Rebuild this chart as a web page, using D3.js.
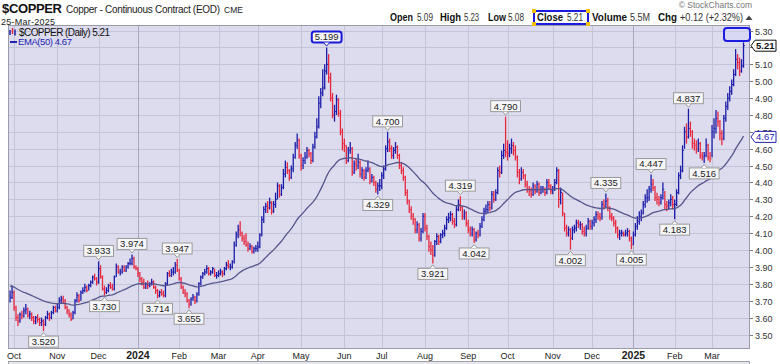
<!DOCTYPE html>
<html>
<head>
<meta charset="utf-8">
<script src="https://cdn.jsdelivr.net/npm/d3@7"></script>
<style>
  html, body { margin: 0; padding: 0; background: #fff; }
  svg { display: block; font-family: "Liberation Sans", Arial, sans-serif; }
</style>
</head>
<body>
<svg id="chart" width="780" height="364"></svg>
<script>
// trading calendar
const firstDay = '2023-09-28';
const lastDay = '2025-03-25';
const holidays = ['2023-11-23', '2023-12-25', '2024-01-01', '2024-01-15', '2024-02-19', '2024-03-29',
    '2024-05-27', '2024-06-19', '2024-07-04', '2024-09-02', '2024-11-28', '2024-12-25',
    '2025-01-01', '2025-01-20', '2025-02-17'];

const monthTicks = ['Oct', 'Nov', 'Dec', '2024', 'Feb', 'Mar', 'Apr', 'May', 'Jun', 'Jul', 'Aug', 'Sep',
    'Oct', 'Nov', 'Dec', '2025', 'Feb', 'Mar'];
const yTicks = [3.50, 3.60, 3.70, 3.80, 3.90, 4.00, 4.10, 4.20, 4.30, 4.40, 4.50, 4.60, 4.70, 4.80,
    4.90, 5.00, 5.10, 5.20, 5.30];

// daily closes, one line per month
const closes = [
    3.72, 3.75,
    3.66, 3.60, 3.58, 3.62, 3.61, 3.64, 3.65, 3.61, 3.62, 3.60, 3.58, 3.60, 3.59, 3.57, 3.58, 3.56, 3.60, 3.62, 3.60, 3.63, 3.66, 3.64,
    3.66, 3.70, 3.71, 3.70, 3.66, 3.64, 3.62, 3.59, 3.63, 3.70, 3.73, 3.70, 3.75, 3.76, 3.78, 3.76, 3.79, 3.81, 3.84, 3.83, 3.81,
    3.89, 3.84, 3.77, 3.75, 3.76, 3.79, 3.78, 3.77, 3.84, 3.90, 3.87, 3.87, 3.90, 3.88, 3.90, 3.92, 3.92, 3.95, 3.90, 3.89,
    3.86, 3.83, 3.81, 3.78, 3.80, 3.79, 3.80, 3.81, 3.78, 3.76, 3.73, 3.75, 3.74, 3.73, 3.80, 3.86, 3.85, 3.87, 3.87, 3.91, 3.88,
    3.83, 3.78, 3.75, 3.74, 3.70, 3.68, 3.71, 3.72, 3.70, 3.74, 3.80, 3.84, 3.86, 3.87, 3.89, 3.86, 3.87, 3.89, 3.85, 3.85,
    3.86, 3.87, 3.86, 3.89, 3.91, 3.90, 3.90, 3.93, 4.03, 4.09, 4.12, 4.10, 4.07, 4.05, 4.03, 4.01, 4.02, 3.99, 4.01, 4.01,
    4.02, 4.09, 4.18, 4.24, 4.26, 4.25, 4.28, 4.23, 4.27, 4.30, 4.38, 4.33, 4.37, 4.45, 4.49, 4.47, 4.43, 4.48, 4.55, 4.62, 4.65, 4.56,
    4.50, 4.53, 4.55, 4.59, 4.57, 4.53, 4.61, 4.67, 4.73, 4.87, 4.93, 4.96, 5.06, 5.10, 5.02, 4.90, 4.80, 4.82, 4.89, 4.81, 4.70, 4.63,
    4.62, 4.53, 4.59, 4.60, 4.46, 4.51, 4.50, 4.52, 4.45, 4.47, 4.43, 4.47, 4.48, 4.41, 4.43, 4.40, 4.36, 4.38, 4.38,
    4.44, 4.48, 4.60, 4.64, 4.60, 4.56, 4.59, 4.61, 4.56, 4.50, 4.47, 4.43, 4.34, 4.29, 4.24, 4.20, 4.18, 4.12, 4.15, 4.07, 4.11, 4.20,
    4.13, 4.08, 4.02, 4.00, 3.97, 4.05, 4.08, 4.05, 4.09, 4.10, 4.13, 4.18, 4.19, 4.21, 4.17, 4.15, 4.24, 4.27, 4.25, 4.20, 4.22, 4.16,
    4.12, 4.10, 4.12, 4.06, 4.10, 4.09, 4.14, 4.18, 4.23, 4.24, 4.27, 4.25, 4.33, 4.30, 4.34, 4.47, 4.46, 4.56, 4.59, 4.58,
    4.57, 4.60, 4.62, 4.59, 4.55, 4.46, 4.42, 4.46, 4.44, 4.39, 4.36, 4.35, 4.33, 4.38, 4.35, 4.39, 4.34, 4.36, 4.36, 4.34, 4.40, 4.38, 4.35,
    4.36, 4.40, 4.47, 4.30, 4.34, 4.22, 4.13, 4.10, 4.12, 4.07, 4.12, 4.13, 4.16, 4.15, 4.15, 4.11, 4.10, 4.13, 4.17, 4.14,
    4.16, 4.18, 4.21, 4.20, 4.19, 4.27, 4.26, 4.29, 4.25, 4.20, 4.19, 4.16, 4.13, 4.09, 4.10, 4.10, 4.09, 4.10, 4.11, 4.07, 4.03,
    4.09, 4.14, 4.17, 4.20, 4.22, 4.27, 4.31, 4.31, 4.36, 4.39, 4.37, 4.31, 4.30, 4.28, 4.31, 4.36, 4.27, 4.26, 4.28, 4.30, 4.27,
    4.27, 4.34, 4.44, 4.47, 4.59, 4.70, 4.67, 4.72, 4.70, 4.63, 4.62, 4.60, 4.63, 4.56, 4.55, 4.56, 4.62, 4.55, 4.54,
    4.70, 4.72, 4.78, 4.76, 4.69, 4.66, 4.78, 4.85, 4.90, 4.94, 4.98, 5.04, 5.13, 5.11, 5.06, 5.09, 5.21,
];

const highs = [
    3.76, 3.79,
    3.76, 3.67, 3.62, 3.63, 3.64, 3.66, 3.68, 3.66, 3.64, 3.63, 3.61, 3.61, 3.62, 3.60, 3.60, 3.59, 3.61, 3.64, 3.63, 3.64, 3.67, 3.67,
    3.68, 3.72, 3.73, 3.73, 3.71, 3.67, 3.65, 3.63, 3.64, 3.71, 3.75, 3.74, 3.76, 3.78, 3.80, 3.79, 3.80, 3.82, 3.85, 3.86, 3.84,
    3.933, 3.91, 3.85, 3.79, 3.78, 3.80, 3.81, 3.80, 3.85, 3.92, 3.91, 3.89, 3.91, 3.91, 3.91, 3.93, 3.95, 3.974, 3.96, 3.91,
    3.90, 3.87, 3.84, 3.83, 3.81, 3.82, 3.81, 3.83, 3.82, 3.79, 3.77, 3.76, 3.77, 3.76, 3.81, 3.87, 3.88, 3.89, 3.90, 3.93, 3.947,
    3.89, 3.84, 3.79, 3.77, 3.75, 3.71, 3.72, 3.74, 3.73, 3.75, 3.81, 3.85, 3.87, 3.89, 3.91, 3.90, 3.88, 3.90, 3.89, 3.87,
    3.88, 3.89, 3.88, 3.90, 3.93, 3.94, 3.92, 3.94, 4.05, 4.11, 4.15, 4.17, 4.11, 4.09, 4.10, 4.05, 4.04, 4.03, 4.02, 4.03,
    4.05, 4.10, 4.20, 4.26, 4.28, 4.29, 4.31, 4.29, 4.29, 4.34, 4.40, 4.39, 4.39, 4.48, 4.53, 4.52, 4.48, 4.50, 4.57, 4.64, 4.69, 4.66,
    4.57, 4.55, 4.58, 4.61, 4.60, 4.58, 4.63, 4.70, 4.78, 4.91, 4.96, 5.07, 5.10, 5.199, 5.16, 5.05, 4.93, 4.86, 4.92, 4.90, 4.83, 4.72,
    4.66, 4.62, 4.61, 4.64, 4.61, 4.53, 4.54, 4.57, 4.53, 4.49, 4.48, 4.49, 4.53, 4.49, 4.45, 4.44, 4.41, 4.40, 4.42,
    4.46, 4.50, 4.62, 4.70, 4.66, 4.62, 4.61, 4.64, 4.62, 4.57, 4.52, 4.49, 4.44, 4.36, 4.30, 4.26, 4.22, 4.19, 4.17, 4.16, 4.13, 4.22,
    4.22, 4.15, 4.09, 4.05, 4.03, 4.06, 4.10, 4.09, 4.10, 4.12, 4.15, 4.20, 4.22, 4.23, 4.22, 4.19, 4.26, 4.30, 4.319, 4.26, 4.24, 4.23,
    4.18, 4.14, 4.14, 4.13, 4.11, 4.12, 4.16, 4.20, 4.25, 4.27, 4.29, 4.29, 4.35, 4.35, 4.36, 4.49, 4.50, 4.59, 4.63, 4.79,
    4.65, 4.63, 4.66, 4.64, 4.62, 4.56, 4.48, 4.49, 4.48, 4.45, 4.41, 4.38, 4.37, 4.40, 4.39, 4.41, 4.40, 4.38, 4.38, 4.37, 4.42, 4.42, 4.39,
    4.38, 4.42, 4.49, 4.48, 4.37, 4.34, 4.22, 4.15, 4.14, 4.13, 4.14, 4.15, 4.18, 4.18, 4.17, 4.16, 4.14, 4.15, 4.19, 4.18,
    4.18, 4.20, 4.23, 4.23, 4.22, 4.29, 4.30, 4.335, 4.31, 4.26, 4.22, 4.20, 4.18, 4.14, 4.12, 4.12, 4.11, 4.12, 4.13, 4.12, 4.08,
    4.11, 4.16, 4.20, 4.23, 4.24, 4.29, 4.33, 4.36, 4.38, 4.447, 4.42, 4.38, 4.34, 4.32, 4.33, 4.40, 4.35, 4.29, 4.30, 4.33, 4.32,
    4.30, 4.36, 4.46, 4.50, 4.62, 4.73, 4.75, 4.837, 4.76, 4.71, 4.66, 4.65, 4.66, 4.64, 4.58, 4.58, 4.66, 4.63, 4.58,
    4.74, 4.78, 4.83, 4.82, 4.77, 4.71, 4.80, 4.88, 4.93, 4.97, 5.01, 5.07, 5.19, 5.16, 5.14, 5.13, 5.23,
];

const lows = [
    3.69, 3.71,
    3.64, 3.58, 3.55, 3.57, 3.59, 3.60, 3.62, 3.60, 3.59, 3.58, 3.56, 3.56, 3.57, 3.55, 3.55, 3.52, 3.55, 3.59, 3.58, 3.59, 3.62, 3.63,
    3.63, 3.65, 3.68, 3.68, 3.65, 3.62, 3.60, 3.58, 3.59, 3.62, 3.69, 3.69, 3.70, 3.74, 3.75, 3.75, 3.76, 3.78, 3.80, 3.82, 3.79,
    3.80, 3.83, 3.76, 3.73, 3.74, 3.75, 3.77, 3.76, 3.76, 3.84, 3.86, 3.85, 3.86, 3.87, 3.87, 3.89, 3.91, 3.91, 3.89, 3.88,
    3.84, 3.81, 3.79, 3.77, 3.77, 3.77, 3.78, 3.79, 3.77, 3.74, 3.714, 3.72, 3.73, 3.72, 3.72, 3.79, 3.84, 3.84, 3.85, 3.86, 3.87,
    3.82, 3.77, 3.74, 3.72, 3.69, 3.655, 3.67, 3.70, 3.68, 3.69, 3.73, 3.79, 3.83, 3.85, 3.86, 3.85, 3.85, 3.86, 3.84, 3.83,
    3.84, 3.85, 3.84, 3.85, 3.88, 3.89, 3.88, 3.89, 3.92, 4.02, 4.07, 4.08, 4.05, 4.03, 4.02, 3.99, 4.00, 3.98, 3.98, 3.99,
    3.99, 4.01, 4.08, 4.16, 4.22, 4.22, 4.24, 4.21, 4.22, 4.25, 4.30, 4.31, 4.32, 4.36, 4.43, 4.45, 4.41, 4.42, 4.46, 4.54, 4.60, 4.54,
    4.47, 4.48, 4.51, 4.54, 4.55, 4.51, 4.52, 4.60, 4.66, 4.72, 4.84, 4.91, 4.95, 5.04, 4.99, 4.88, 4.78, 4.76, 4.80, 4.79, 4.68, 4.59,
    4.58, 4.51, 4.52, 4.57, 4.44, 4.45, 4.47, 4.48, 4.43, 4.42, 4.41, 4.42, 4.46, 4.39, 4.40, 4.38, 4.34, 4.329, 4.35,
    4.36, 4.42, 4.47, 4.58, 4.58, 4.54, 4.54, 4.57, 4.54, 4.48, 4.45, 4.41, 4.32, 4.27, 4.22, 4.18, 4.15, 4.10, 4.10, 4.05, 4.05, 4.10,
    4.11, 4.06, 3.99, 3.97, 3.921, 3.96, 4.03, 4.03, 4.04, 4.07, 4.08, 4.12, 4.16, 4.17, 4.15, 4.13, 4.14, 4.23, 4.23, 4.18, 4.18, 4.14,
    4.10, 4.08, 4.08, 4.042, 4.05, 4.07, 4.08, 4.13, 4.17, 4.21, 4.22, 4.23, 4.24, 4.28, 4.29, 4.33, 4.43, 4.45, 4.54, 4.55,
    4.53, 4.55, 4.57, 4.56, 4.53, 4.43, 4.39, 4.41, 4.42, 4.37, 4.34, 4.32, 4.31, 4.32, 4.33, 4.34, 4.32, 4.33, 4.34, 4.32, 4.33, 4.36, 4.33,
    4.33, 4.35, 4.39, 4.25, 4.27, 4.20, 4.11, 4.08, 4.08, 4.002, 4.06, 4.10, 4.11, 4.13, 4.12, 4.09, 4.08, 4.08, 4.12, 4.12,
    4.12, 4.14, 4.16, 4.18, 4.17, 4.18, 4.24, 4.25, 4.23, 4.18, 4.17, 4.14, 4.10, 4.07, 4.06, 4.08, 4.08, 4.08, 4.08, 4.05, 4.005,
    4.03, 4.08, 4.12, 4.15, 4.17, 4.21, 4.25, 4.28, 4.29, 4.34, 4.35, 4.29, 4.27, 4.26, 4.27, 4.30, 4.24, 4.23, 4.24, 4.26, 4.24,
    4.183, 4.26, 4.33, 4.42, 4.46, 4.60, 4.63, 4.66, 4.67, 4.60, 4.59, 4.57, 4.58, 4.54, 4.53, 4.516, 4.55, 4.53, 4.52,
    4.55, 4.66, 4.69, 4.73, 4.65, 4.62, 4.65, 4.76, 4.83, 4.88, 4.92, 4.97, 5.03, 5.07, 5.03, 5.05, 5.08,
];

// EMA(50) value on the day before the first bar
const emaPrior = 3.79;

// swing labels
const pivotDates = ['2023-10-23', '2023-12-01', '2023-12-06', '2023-12-27', '2024-01-17', '2024-01-31',
    '2024-02-08', '2024-05-20', '2024-06-27', '2024-07-05', '2024-08-07', '2024-08-27', '2024-09-06',
    '2024-09-30', '2024-11-14', '2024-12-11', '2024-12-31', '2025-01-15', '2025-02-03', '2025-02-12', '2025-02-25'];
const pivotValues = [3.520, 3.933, 3.730, 3.974, 3.714, 3.947, 3.655, 5.199, 4.329, 4.700, 3.921, 4.319,
    4.042, 4.790, 4.002, 4.335, 4.005, 4.447, 4.183, 4.837, 4.516];
const pivotSides = ['low', 'high', 'low', 'high', 'low', 'high', 'low', 'high', 'low', 'high', 'low', 'high',
    'low', 'high', 'low', 'high', 'low', 'high', 'low', 'high', 'low'];

const lastBar = { open: 5.09, high: 5.23, low: 5.08, close: 5.21, volume: '5.5M', chg: '+0.12 (+2.32%)', ema: 4.67 };

const UP = '#1c1caa';
const DOWN = '#e8283f';
const BG = '#dcdcee';
const GRID = '#c4c4d8';

const svg = d3.select('#chart');
const plot = { left: 8, right: 750, top: 25, bottom: 349 };

const parse = d3.utcParse('%Y-%m-%d');
const fmt = d3.utcFormat('%Y-%m-%d');
const holidaySet = new Set(holidays);
const dates = d3.utcDays(parse(firstDay), d3.utcDay.offset(parse(lastDay), 1))
    .filter(d => d.getUTCDay() % 6 !== 0 && !holidaySet.has(fmt(d)));
if (dates.length !== closes.length || highs.length !== closes.length || lows.length !== closes.length) {
    console.error('length mismatch', dates.length, closes.length, highs.length, lows.length);
}
const n = closes.length;

const x = d3.scaleLinear().domain([0, n - 1]).range([10.1, 743.5]);
const y = d3.scaleLinear().domain([3.5, 5.3]).range([334.5, 30.5]);

// plot background
svg.append('rect')
    .attr('x', plot.left).attr('y', plot.top)
    .attr('width', plot.right - plot.left).attr('height', plot.bottom - plot.top)
    .attr('fill', BG);

// horizontal grid
svg.append('g').selectAll('line')
    .data(yTicks)
    .join('line')
    .attr('x1', plot.left).attr('x2', plot.right)
    .attr('y1', d => Math.round(y(d)) + 0.5).attr('y2', d => Math.round(y(d)) + 0.5)
    .attr('stroke', GRID).attr('stroke-width', 1);

// month starts
const monthIdx = [];
dates.forEach((d, i) => {
    if (i > 0 && d.getUTCMonth() !== dates[i - 1].getUTCMonth()) monthIdx.push(i);
});
const months = monthIdx.map((i, k) => ({ i, label: monthTicks[k], year: /^\d{4}$/.test(monthTicks[k]) }));

svg.append('g').selectAll('line')
    .data(months)
    .join('line')
    .attr('x1', d => Math.round(x(d.i)) + 0.5).attr('x2', d => Math.round(x(d.i)) + 0.5)
    .attr('y1', plot.top).attr('y2', plot.bottom)
    .attr('stroke', d => d.year ? '#a6a6bc' : GRID).attr('stroke-width', 1);

svg.append('rect')
    .attr('x', plot.left + 0.5).attr('y', plot.top + 0.5)
    .attr('width', plot.right - plot.left - 1).attr('height', plot.bottom - plot.top - 1)
    .attr('fill', 'none').attr('stroke', '#9a9aa8');

// price bars
const bars = svg.append('g');
closes.forEach((c, i) => {
    const color = (i === 0 || c >= closes[i - 1]) ? UP : DOWN;
    const cx = x(i);
    bars.append('line')
        .attr('x1', cx).attr('x2', cx)
        .attr('y1', y(highs[i])).attr('y2', y(lows[i]))
        .attr('stroke', color).attr('stroke-width', 1.3);
    bars.append('line')
        .attr('x1', cx).attr('x2', cx + 1.4)
        .attr('y1', y(c)).attr('y2', y(c))
        .attr('stroke', color).attr('stroke-width', 1);
});

// EMA(50)
const k = 2 / 51;
let prev = emaPrior;
const ema = closes.map(c => (prev = c * k + prev * (1 - k)));

svg.append('path')
    .datum(ema)
    .attr('fill', 'none')
    .attr('stroke', '#55558c')
    .attr('stroke-width', 1.3)
    .attr('d', d3.line().x((d, i) => x(i)).y(d => y(d)));

// swing labels
const dateIndex = new Map(dates.map((d, i) => [fmt(d), i]));
const pivots = svg.append('g').style('font-size', '9.5px');
pivotDates.forEach((ds, j) => {
    const i = dateIndex.get(ds);
    const v = pivotValues[j];
    const px = x(i);
    const py = y(v);
    const up = pivotSides[j] === 'high';
    const cy = up ? py - 10.5 : py + 10.5;
    const hi = j === 7;
    const g = pivots.append('g');
    const box = g.append('rect');
    const tail = g.append('path');
    const t = g.append('text')
        .attr('x', px).attr('y', cy + 3.4)
        .attr('text-anchor', 'middle')
        .attr('fill', '#222')
        .text(v.toFixed(3));
    const w = t.node().getComputedTextLength() + 6;
    box.attr('x', px - w / 2).attr('y', cy - 5.5)
        .attr('width', w).attr('height', 11)
        .attr('rx', hi ? 2.5 : 0)
        .attr('fill', '#f6f6f8')
        .attr('stroke', hi ? '#1818d8' : '#9a9a9a')
        .attr('stroke-width', hi ? 2 : 1);
    const edge = up ? cy + 5.5 : cy - 5.5;
    const tip = up ? py - 1.5 : py + 1.5;
    tail.attr('d', `M${px - 3},${edge} L${px},${tip} L${px + 3},${edge}`)
        .attr('fill', '#f6f6f8')
        .attr('stroke', hi ? '#1818d8' : '#9a9a9a');
});

// highlight box at the latest high
svg.append('rect')
    .attr('x', 724).attr('y', 28)
    .attr('width', 26).attr('height', 13)
    .attr('rx', 3)
    .attr('fill', 'rgba(214,214,246,0.6)')
    .attr('stroke', '#1a1ae0').attr('stroke-width', 2);

// right axis (the label under the close tag is hidden, as on the source)
const yAxis = svg.append('g').style('font-size', '9px').attr('fill', '#333');
yTicks.forEach(v => {
    const yy = Math.round(y(v)) + 0.5;
    yAxis.append('line')
        .attr('x1', plot.right).attr('x2', plot.right + 3)
        .attr('y1', yy).attr('y2', yy)
        .attr('stroke', '#777');
    if (Math.abs(y(v) - y(lastBar.close)) < 6) return;
    yAxis.append('text')
        .attr('x', 755).attr('y', yy + 3.2)
        .text(v.toFixed(2));
});

function priceTag(v, stroke, color, bold) {
    const yy = y(v);
    svg.append('path')
        .attr('d', `M${plot.right + 1},${yy} L${plot.right + 5},${yy - 5.5} L776,${yy - 5.5} L776,${yy + 5.5} L${plot.right + 5},${yy + 5.5} Z`)
        .attr('fill', '#fff')
        .attr('stroke', stroke);
    svg.append('text')
        .attr('x', 756).attr('y', yy + 3.3)
        .style('font-size', '9.5px')
        .style('font-weight', bold ? 'bold' : 'normal')
        .attr('fill', color)
        .text(v.toFixed(2));
}
priceTag(lastBar.close, '#111', '#111', true);
priceTag(lastBar.ema, '#2424b0', '#2424b0', false);

// x axis labels
svg.append('g').selectAll('text')
    .data(months)
    .join('text')
    .attr('x', d => x(d.i))
    .attr('y', 358.5)
    .attr('text-anchor', 'middle')
    .style('font-size', d => d.year ? '10.5px' : '9px')
    .style('font-weight', d => d.year ? 'bold' : 'normal')
    .attr('fill', '#222')
    .text(d => d.label);

// next panel edge
svg.append('rect')
    .attr('x', plot.left + 0.5).attr('y', 361.5)
    .attr('width', plot.right - plot.left - 1).attr('height', 8)
    .attr('fill', '#e6e6ee').attr('stroke', '#a0a0aa');

// legend inside plot
const leg = svg.append('g');
[[10, 30, 35, UP], [12.5, 28, 34, DOWN], [15, 29.5, 35.5, UP]].forEach(([lx, y1, y2, col]) => {
    leg.append('line').attr('x1', lx).attr('x2', lx).attr('y1', y1).attr('y2', y2)
        .attr('stroke', col).attr('stroke-width', 1.5);
});
leg.append('text')
    .attr('x', 19).attr('y', 35.5)
    .style('font-size', '10px')
    .attr('fill', '#111')
    .attr('textLength', 91)
    .text(`$COPPER (Daily) ${lastBar.close.toFixed(2)}`);
leg.append('line')
    .attr('x1', 10).attr('x2', 17).attr('y1', 42).attr('y2', 42)
    .attr('stroke', '#2424b0').attr('stroke-width', 2);
leg.append('text')
    .attr('x', 18).attr('y', 45)
    .style('font-size', '9.5px')
    .attr('fill', '#2424b0')
    .attr('textLength', 54)
    .text(`EMA(50) ${lastBar.ema.toFixed(2)}`);

// header
svg.append('text')
    .attr('x', 2).attr('y', 13)
    .style('font-size', '13px').style('font-weight', 'bold')
    .attr('fill', '#111')
    .attr('textLength', 60)
    .text('$COPPER');
svg.append('text')
    .attr('x', 66).attr('y', 13)
    .style('font-size', '10px')
    .attr('fill', '#222')
    .attr('textLength', 154)
    .text('Copper - Continuous Contract (EOD)');
svg.append('text')
    .attr('x', 224).attr('y', 13)
    .style('font-size', '8.5px')
    .attr('fill', '#222')
    .text('CME');
svg.append('text')
    .attr('x', 1).attr('y', 24.5)
    .style('font-size', '9px')
    .attr('fill', '#222')
    .attr('textLength', 54)
    .text('25-Mar-2025');
svg.append('text')
    .attr('x', 752).attr('y', 8)
    .attr('text-anchor', 'end')
    .style('font-size', '8.5px')
    .attr('fill', '#777')
    .text('\u00a9 StockCharts.com');

const quote = [
    [390, 'Open', true, 23], [417, lastBar.open.toFixed(2), false, 16],
    [440, 'High', true, 21], [464, lastBar.high.toFixed(2), false, 15],
    [488, 'Low', true, 18], [508, lastBar.low.toFixed(2), false, 16],
    [537, 'Close', true, 26], [567, lastBar.close.toFixed(2), false, 16],
    [592, 'Volume', true, 35], [630, lastBar.volume, false, 20],
    [658, 'Chg', true, 19], [680, lastBar.chg, false, 63],
];
quote.forEach(([qx, s, b, w]) => {
    svg.append('text')
        .attr('x', qx).attr('y', 21)
        .style('font-size', b ? '10.5px' : '10px')
        .style('font-weight', b ? 'bold' : 'normal')
        .attr('fill', b ? '#111' : '#333')
        .attr('textLength', w)
        .attr('lengthAdjust', 'spacingAndGlyphs')
        .text(s);
});
svg.append('path')
    .attr('d', 'M745.5,20 L749,15.5 L752.5,20 Z')
    .attr('fill', '#444');

// selected "Close" field
svg.append('rect')
    .attr('x', 534).attr('y', 11)
    .attr('width', 54).attr('height', 13)
    .attr('fill', 'none')
    .attr('stroke', '#1a1ae0').attr('stroke-width', 2);
[[534, 11], [588, 11], [534, 24], [588, 24]].forEach(([hx, hy]) => {
    svg.append('rect')
        .attr('x', hx - 2).attr('y', hy - 2)
        .attr('width', 4).attr('height', 4)
        .attr('fill', '#f2c200');
});
</script>
</body>
</html>
